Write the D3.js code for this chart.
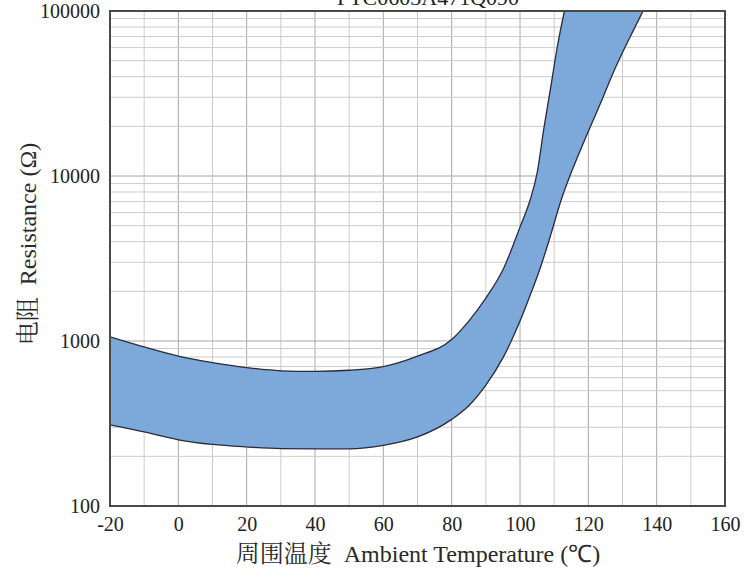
<!DOCTYPE html>
<html><head><meta charset="utf-8">
<script src="https://cdn.jsdelivr.net/npm/d3@7"></script>
<style>
html,body{margin:0;padding:0;background:#fff;}
svg{display:block;}
</style></head>
<body>
<svg id="chart" width="756" height="575" font-family="'Liberation Serif', 'Times New Roman', serif"></svg>
<script>
// ---- data ----
const title = "PTC0603A471Q090";
const xTicks = [-20, 0, 20, 40, 60, 80, 100, 120, 140, 160];
const yTicks = [100, 1000, 10000, 100000];
const upperT = [-20, -10, 0, 10, 20, 30, 40, 50, 60, 70, 80, 85, 90, 95, 100, 103, 105, 107, 109, 111, 113];
const upperR = [1060, 920, 810, 740, 690, 660, 655, 665, 700, 810, 1020, 1320, 1820, 2700, 4900, 7200, 10400, 19500, 34600, 62000, 100000];
const lowerT = [-20, -10, 0, 10, 20, 30, 40, 50, 60, 70, 80, 85, 90, 95, 100, 103, 106, 109, 112, 115, 118, 121, 124, 127, 130, 133, 136];
const lowerR = [310, 281, 252, 236, 228, 223, 222, 222, 233, 262, 335, 405, 540, 790, 1320, 1900, 2800, 4400, 7100, 10500, 14900, 20800, 29000, 41000, 56000, 75000, 100000];
const xLabel = ["周围温度", "\u00a0\u00a0Ambient Temperature (℃)"];
const yLabel = ["电阻", "\u00a0\u00a0Resistance (Ω)"];

const SERIF = "'Liberation Serif', 'Times New Roman', serif";
const CJK = "'Noto Serif CJK SC', 'Noto Sans CJK SC', serif";

const svg = d3.select("#chart");
const L = 110, R = 725, T = 11, B = 506;
const x = d3.scaleLinear().domain([-20, 160]).range([L, R]);
const y = d3.scaleLog().domain([100, 100000]).range([B, T]);

// grid
const g = svg.append("g");
const vGrid = d3.range(-10, 160, 10);
g.selectAll("line.v").data(vGrid).join("line")
  .attr("x1", d => x(d)).attr("x2", d => x(d)).attr("y1", T).attr("y2", B)
  .attr("stroke", d => d % 20 === 0 ? "#a8a8a8" : "#cccccc").attr("stroke-width", 1);
const hGrid = [];
[100, 1000, 10000].forEach(dec => { for (let k = 2; k <= 10; k++) hGrid.push(dec * k); });
g.selectAll("line.h").data(hGrid.filter(v => v < 100000)).join("line")
  .attr("x1", L).attr("x2", R).attr("y1", d => y(d)).attr("y2", d => y(d))
  .attr("stroke", d => [1000, 10000].includes(d) ? "#a8a8a8" : "#cccccc").attr("stroke-width", 1);

// band
svg.append("clipPath").attr("id", "clip").append("rect")
  .attr("x", L).attr("y", T).attr("width", R - L).attr("height", B - T);
const upper = upperT.map((t, i) => [t, upperR[i]]);
const lower = lowerT.map((t, i) => [t, lowerR[i]]);
const line = d3.line().x(d => x(d[0])).y(d => y(d[1])).curve(d3.curveMonotoneX);
const up = line(upper);
const lowRev = line(lower.slice().reverse());
const band = svg.append("g").attr("clip-path", "url(#clip)");
band.append("path").attr("d", up + "L" + lowRev.slice(1) + "Z")
  .attr("fill", "#7da8da").attr("stroke", "none");
band.append("path").attr("d", up).attr("fill", "none").attr("stroke", "#2a2a3a").attr("stroke-width", 1.3);
band.append("path").attr("d", line(lower)).attr("fill", "none").attr("stroke", "#2a2a3a").attr("stroke-width", 1.3);

// frame
svg.append("rect").attr("x", L).attr("y", T).attr("width", R - L).attr("height", B - T)
  .attr("fill", "none").attr("stroke", "#4a4a4a").attr("stroke-width", 2);

// axes (labels only)
const xAxis = d3.axisBottom(x).tickValues(xTicks).tickSize(0).tickPadding(11).tickFormat(d => String(d));
const xa = svg.append("g").attr("transform", `translate(0,${B})`).call(xAxis);
const yAxis = d3.axisLeft(y).tickValues(yTicks).tickSize(0).tickPadding(10).tickFormat(d => String(d));
const ya = svg.append("g").attr("transform", `translate(${L},0)`).call(yAxis);
[xa, ya].forEach(a => {
  a.attr("font-family", SERIF).attr("font-size", 20);
  a.select(".domain").remove();
  a.selectAll("text").attr("font-family", SERIF).style("font-family", SERIF).style("font-size", "20px").attr("fill", "#222");
});

// axis titles
const xt = svg.append("text").attr("x", 418).attr("y", 562).attr("text-anchor", "middle")
  .attr("font-family", SERIF).style("font-family", SERIF).style("font-size", "24px").attr("fill", "#2a2a2a");
xt.append("tspan").attr("font-family", CJK).style("font-family", CJK).text(xLabel[0]);
xt.append("tspan").text(xLabel[1]);

const yt = svg.append("text").attr("transform", "translate(36,244) rotate(-90)").attr("text-anchor", "middle")
  .attr("font-family", SERIF).style("font-family", SERIF).style("font-size", "24px").attr("fill", "#2a2a2a");
yt.append("tspan").attr("font-family", CJK).style("font-family", CJK).text(yLabel[0]);
yt.append("tspan").text(yLabel[1]);

// title (cropped at top in reference)
svg.append("text").attr("x", 428).attr("y", 5).attr("text-anchor", "middle")
  .attr("font-family", SERIF).style("font-family", SERIF).style("font-size", "22px").attr("fill", "#222").text(title);
</script>
</body></html>
